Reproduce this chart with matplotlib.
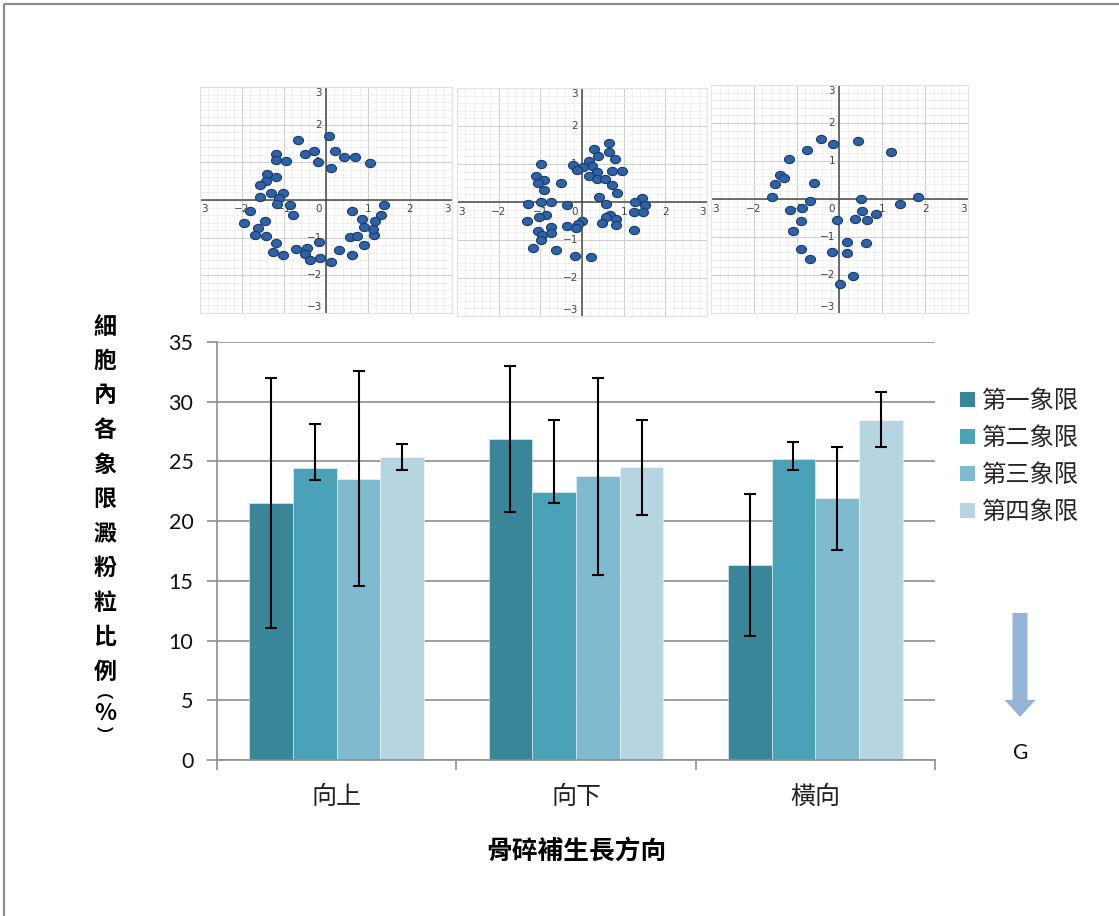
import numpy as np
import matplotlib.pyplot as plt
from matplotlib.markers import MarkerStyle
from matplotlib.transforms import Affine2D
from matplotlib.patches import Patch, FancyArrow

plt.rcParams['font.family'] = ['Noto Sans CJK TC', 'DejaVu Sans']

W, H = 1119, 916

directions = ['向上', '向下', '橫向']
quadrants = ['第一象限', '第二象限', '第三象限', '第四象限']
colors = ['#3a8699', '#4aa2b9', '#7fbace', '#b7d5e0']

# mean starch-grain share (%) per quadrant (rows) and growth direction (cols)
means = np.array([
    [21.5, 26.85, 16.35],
    [24.45, 22.45, 25.2],
    [23.55, 23.75, 21.9],
    [25.35, 24.5, 28.5],
])
err_low = np.array([
    [10.45, 6.05, 5.95],
    [1.0, 0.95, 0.95],
    [8.95, 8.25, 4.3],
    [1.05, 3.95, 2.3],
])
err_high = np.array([
    [10.45, 6.15, 5.95],
    [3.7, 6.0, 1.45],
    [9.0, 8.25, 4.3],
    [1.15, 4.0, 2.3],
])

# grain positions inside the cell, one set per growth direction
up_x = [0.06, -0.66, -1.19, -0.51, -0.28, 0.22, 0.43, 0.69, 1.04, -1.19, -0.95,
        -0.20, 0.13, -1.40, -1.19, -1.42, -1.58, -1.30, -1.02, -1.58, -1.12,
        -1.16, -0.86, -0.79, -1.81, -1.95, -1.61, -1.45, -1.70, -1.44, -1.19,
        -1.26, -1.02, -0.72, -0.45, -0.51, -0.38, -0.14, -0.17, 0.11, 0.32,
        0.63, 0.91, 0.57, 0.74, 1.15, 1.13, 0.90, 1.17, 0.86, 1.30, 0.63, 1.37]
up_y = [1.71, 1.58, 1.23, 1.23, 1.29, 1.29, 1.13, 1.13, 0.97, 1.06, 1.04,
        1.02, 0.86, 0.70, 0.60, 0.50, 0.39, 0.18, 0.18, 0.07, 0.04,
        -0.11, -0.14, -0.40, -0.30, -0.61, -0.74, -0.56, -0.93, -0.95, -1.13,
        -1.37, -1.45, -1.30, -1.27, -1.43, -1.59, -1.54, -1.11, -1.64, -1.32,
        -1.45, -1.19, -0.99, -0.96, -0.93, -0.77, -0.71, -0.56, -0.51, -0.41,
        -0.30, -0.14]

down_x = [0.64, 0.29, 0.64, 0.38, 0.79, 0.18, -0.98, -0.22, 0.25, 0.02, -0.11,
          0.35, 0.71, 0.97, -1.11, 0.18, 0.35, 0.55, -0.90, -1.05, -0.50, 0.73,
          -0.92, 0.83, 0.41, -1.29, -0.98, -0.75, -0.37, 0.58, 1.43, 1.28, 1.52,
          1.24, 1.46, -0.87, -1.02, 0.67, 0.58, 0.81, 0.01, -0.10, -1.32, 0.47,
          0.81, -0.35, -0.14, -0.74, -1.05, -0.75, -0.96, -0.98, 1.25, -1.17,
          -0.63, -0.17, 0.22]
down_y = [1.56, 1.39, 1.32, 1.22, 1.13, 1.08, 1.00, 0.98, 0.95, 0.91, 0.85,
          0.78, 0.81, 0.82, 0.68, 0.68, 0.61, 0.61, 0.58, 0.50, 0.50, 0.46,
          0.32, 0.25, 0.13, -0.04, 0.00, 0.00, -0.07, -0.04, 0.11, -0.01, -0.09,
          -0.25, -0.25, -0.33, -0.40, -0.33, -0.39, -0.44, -0.50, -0.57, -0.51,
          -0.56, -0.61, -0.62, -0.68, -0.65, -0.75, -0.81, -0.88, -1.01, -0.74,
          -1.20, -1.25, -1.42, -1.46]

side_x = [-0.43, -0.15, 0.43, -0.75, 1.20, -1.19, -1.40, -1.30, -1.51, -0.60,
          -1.58, -0.69, 0.51, 1.83, 1.42, -1.16, -0.87, 0.53, 0.85, -0.89,
          -0.06, 0.36, 0.65, -1.08, 0.17, 0.61, -0.91, -0.18, 0.17, -0.70,
          0.31, 0.02]
side_y = [1.59, 1.45, 1.52, 1.30, 1.25, 1.04, 0.63, 0.56, 0.39, 0.41,
          0.06, -0.04, 0.00, 0.04, -0.12, -0.29, -0.24, -0.32, -0.40, -0.57,
          -0.56, -0.52, -0.56, -0.84, -1.12, -1.15, -1.31, -1.39, -1.43, -1.59,
          -2.03, -2.23]

fig = plt.figure(figsize=(W / 100, H / 100), dpi=100)

# page-level layer in pixel units: frame, gravity arrow, stacked y label
deco = fig.add_axes([0, 0, 1, 1], zorder=-5)
deco.set_xlim(0, W)
deco.set_ylim(H, 0)
deco.axis('off')
deco.plot([4, W], [4, 4], color='#8a8a8a', lw=1.6, solid_capstyle='butt')
deco.plot([4, 4], [4, H], color='#8a8a8a', lw=1.6, solid_capstyle='butt')
deco.add_patch(FancyArrow(1020, 613, 0, 104, width=15, head_width=31,
                          head_length=17, length_includes_head=True,
                          color='#95b3d7', lw=0))
deco.text(1021, 753, 'G', ha='center', va='center', fontsize=15,
          family='Lato', color='#111111')
for i, ch in enumerate('細胞內各象限澱粉粒比例'):
    deco.text(105, 327 + i * 34.5, ch, ha='center', va='center',
              fontsize=16.5, fontweight='bold')
for ch, yy, fs in zip('︵%︶', [693, 714, 736], [12, 16.5, 12]):
    deco.text(105, yy, ch, ha='center', va='center', fontsize=fs,
              fontweight='bold')

# bar chart
ax = fig.add_axes([217 / W, 1 - 760 / H, (935 - 217) / W, (760 - 342) / H])
xc = np.arange(len(directions)) + 0.5
bw = 0.1825
for i, q in enumerate(quadrants):
    pos = xc + (i - 1.5) * bw
    ax.bar(pos, means[i], bw, color=colors[i], edgecolor=(1, 1, 1, 0.45),
           linewidth=0.7, label=q, zorder=2)
    ax.errorbar(pos, means[i], yerr=[err_low[i], err_high[i]], fmt='none',
                ecolor='black', elinewidth=1.5, capsize=4.3, capthick=1.5,
                zorder=3)

ax.set_xlim(0, 3)
ax.set_ylim(0, 35)
ax.set_yticks(range(0, 36, 5))
ax.yaxis.grid(True, color='#8e8e8e', lw=1.2)
ax.set_axisbelow(True)
ax.set_xticks([0, 1, 2, 3])
ax.set_xticklabels([])
ax.set_xticks(xc, minor=True)
ax.set_xticklabels(directions, minor=True, fontsize=18, color='#222222')
ax.tick_params(axis='x', which='major', length=7, width=1.2, color='#8e8e8e')
ax.tick_params(axis='x', which='minor', length=0, pad=17)
ax.tick_params(axis='y', length=7, width=1.2, color='#8e8e8e', pad=10,
               labelsize=15.5, labelcolor='#111111')
for lab in ax.get_yticklabels():
    lab.set_family('Lato')
for s in ['top', 'right']:
    ax.spines[s].set_visible(False)
for s in ['left', 'bottom']:
    ax.spines[s].set_color('#8e8e8e')
    ax.spines[s].set_linewidth(1.2)
ax.set_xlabel('骨碎補生長方向', fontsize=18.5, fontweight='bold', labelpad=20)

handles = [Patch(facecolor=c) for c in colors]
fig.legend(handles, quadrants, loc='upper left',
           bbox_to_anchor=(960 / W, 1 - 388 / H), frameon=False, fontsize=17.5,
           handlelength=0.6, handleheight=0.6, handletextpad=0.3,
           labelspacing=0.45, borderpad=0, borderaxespad=0,
           labelcolor='#262626')

# grain scatter panels
boxes = [(200, 87, 452, 313), (457, 88, 707, 316), (711, 85, 968, 313)]
grains = [(up_x, up_y), (down_x, down_y), (side_x, side_y)]
dot = MarkerStyle('o', transform=Affine2D().scale(1.0, 0.82))
tick_kw = dict(fontsize=7.5, color='#444444', family='DejaVu Sans')
for (l, t, r, b), (gx, gy) in zip(boxes, grains):
    a = fig.add_axes([l / W, 1 - b / H, (r - l) / W, (b - t) / H])
    a.set_xlim(-3, 3)
    a.set_ylim(-3, 3)
    a.set_xticks(np.arange(-3, 4, 1))
    a.set_yticks(np.arange(-3, 4, 1))
    a.set_xticks(np.arange(-3, 3.01, 0.2), minor=True)
    a.set_yticks(np.arange(-3, 3.01, 0.2), minor=True)
    a.grid(which='minor', color='#ececec', lw=0.6)
    a.grid(which='major', color='#cfcfcf', lw=0.8)
    a.set_axisbelow(True)
    a.tick_params(which='both', length=0, labelbottom=False, labelleft=False)
    for s in a.spines.values():
        s.set_color('#e2e2e2')
        s.set_linewidth(0.8)
    a.axhline(0, color='#4a4a4a', lw=1.1, zorder=1)
    a.axvline(0, color='#4a4a4a', lw=1.1, zorder=1)
    for v in [-2, -1, 1, 2]:
        lab = f'{v}'.replace('-', '\u2212')
        a.text(v, -0.25, lab, ha='center', va='center', **tick_kw)
        a.text(-0.1, v, lab, ha='right', va='center', **tick_kw)
    # edge labels kept inside the panel
    a.text(-2.97, -0.25, '3', ha='left', va='center', **tick_kw)
    a.text(2.97, -0.25, '3', ha='right', va='center', **tick_kw)
    a.text(-0.1, 2.97, '3', ha='right', va='top', **tick_kw)
    a.text(-0.1, -2.97, '\u22123', ha='right', va='bottom', **tick_kw)
    a.text(-0.1, -0.25, '0', ha='right', va='center', **tick_kw)
    a.scatter(gx, gy, s=52, marker=dot, facecolor='#2d62a9',
              edgecolor='#1b3a66', linewidths=0.8, zorder=3)

fig.savefig('out.png', dpi=100)
